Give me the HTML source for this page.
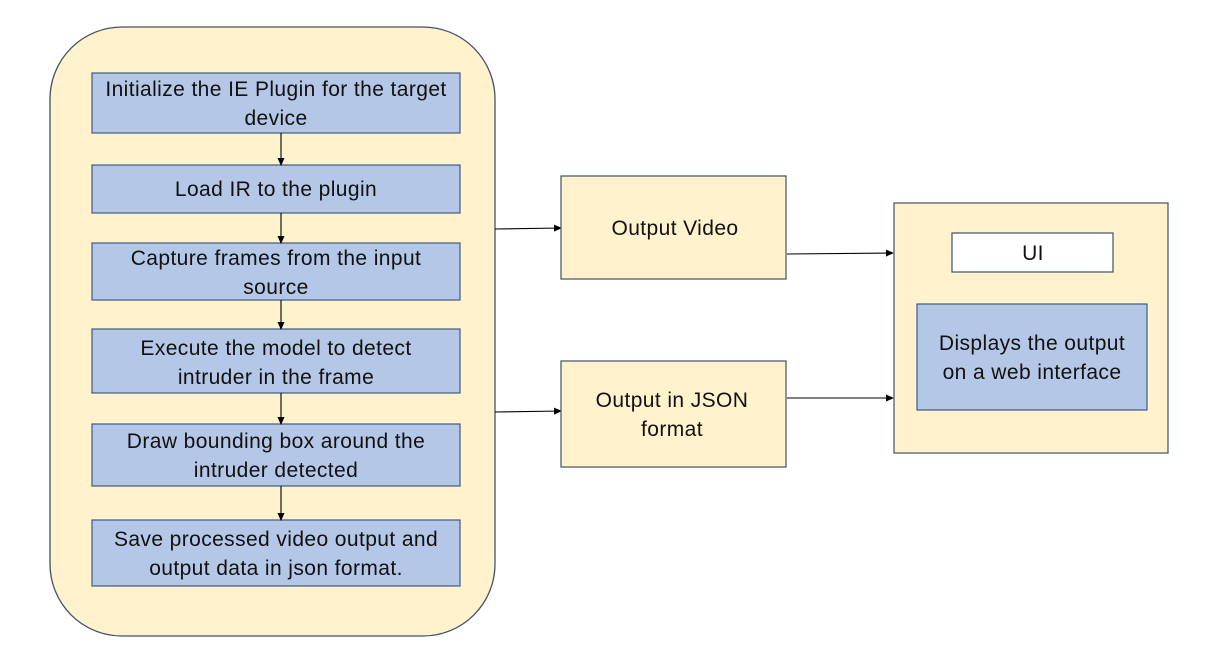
<!DOCTYPE html>
<html><head><meta charset="utf-8"><style>
html,body{margin:0;padding:0;background:#fff;}
svg{display:block;}
text{font-family:"Liberation Sans",sans-serif;font-size:21px;letter-spacing:0.4px;fill:#111;text-anchor:middle;}
</style></head><body>
<svg width="1216" height="660" viewBox="0 0 1216 660" xmlns="http://www.w3.org/2000/svg">
<defs><marker id="a" markerWidth="8" markerHeight="8" refX="7" refY="4" orient="auto" markerUnits="userSpaceOnUse"><path d="M0,0.5 L8,4 L0,7.5 z" fill="#000"/></marker></defs>
<rect x="50" y="27" width="445" height="609" rx="72" fill="#fff2cc" stroke="#3e5468" stroke-width="1.3"/>
<g fill="#b4c7e7" stroke="#3f5a80" stroke-width="1.2">
<rect x="92" y="73" width="368" height="60"/>
<rect x="92" y="165" width="368" height="48"/>
<rect x="92" y="243" width="368" height="57"/>
<rect x="92" y="329" width="368" height="64"/>
<rect x="92" y="424" width="368" height="62"/>
<rect x="92" y="520" width="368" height="66"/>
</g>
<text x="276" y="96">Initialize the IE Plugin for the target</text>
<text x="276" y="125">device</text>
<text x="276" y="196">Load IR to the plugin</text>
<text x="276" y="265">Capture frames from the input</text>
<text x="276" y="294">source</text>
<text x="276" y="355">Execute the model to detect</text>
<text x="276" y="384">intruder in the frame</text>
<text x="276" y="448">Draw bounding box around the</text>
<text x="276" y="477">intruder detected</text>
<text x="276" y="546">Save processed video output and</text>
<text x="276" y="575">output data in json format.</text>
<g stroke="#000" stroke-width="1.1" marker-end="url(#a)">
<line x1="281" y1="133" x2="281" y2="165"/>
<line x1="281" y1="213" x2="281" y2="243"/>
<line x1="281" y1="300" x2="281" y2="329"/>
<line x1="281" y1="393" x2="281" y2="424"/>
<line x1="281" y1="486" x2="281" y2="520"/>
<line x1="495" y1="229" x2="561" y2="228"/>
<line x1="495" y1="412" x2="561" y2="411"/>
<line x1="787" y1="254" x2="893" y2="253"/>
<line x1="787" y1="398" x2="893" y2="398"/>
</g>
<g fill="#fff2cc" stroke="#3e5468" stroke-width="1.2">
<rect x="561" y="176" width="225" height="103"/>
<rect x="561" y="361" width="225" height="106"/>
<rect x="894" y="203" width="274" height="250"/>
</g>
<rect x="952" y="233" width="161" height="39" fill="#fff" stroke="#3e5468" stroke-width="1.2"/>
<rect x="917" y="304" width="230" height="106" fill="#b4c7e7" stroke="#3f5a80" stroke-width="1.2"/>
<text x="675" y="235">Output Video</text>
<text x="672" y="407">Output in JSON</text>
<text x="672" y="436">format</text>
<text x="1033" y="260">UI</text>
<text x="1032" y="350">Displays the output</text>
<text x="1032" y="379">on a web interface</text>
</svg>
</body></html>
